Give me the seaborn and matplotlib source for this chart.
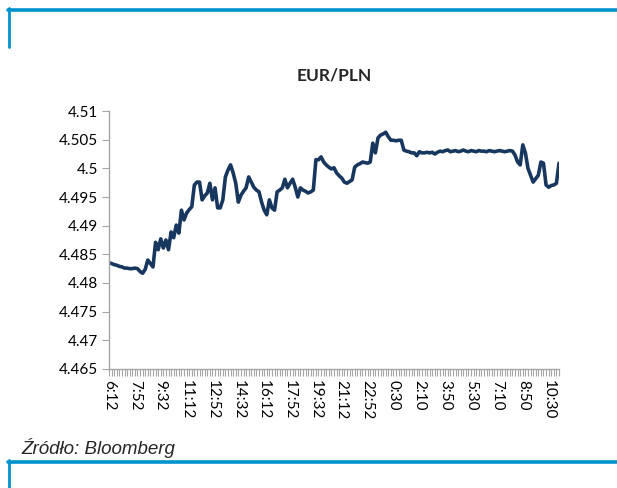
import numpy as np
import pandas as pd
import matplotlib
matplotlib.use("Agg")
import matplotlib.pyplot as plt
import seaborn as sns
from matplotlib.lines import Line2D

# EUR/PLN intraday quotes (one value per category on the x axis)
eurpln = [
    4.4835, 4.4834, 4.4832, 4.4831, 4.4829, 4.4828, 4.4826, 4.4826, 4.4825, 4.4825,
    4.4826, 4.4825, 4.4820, 4.4817, 4.4824, 4.4840, 4.4834, 4.4828, 4.4871, 4.4858,
    4.4877, 4.4861, 4.4875, 4.4858, 4.4889, 4.4879, 4.4901, 4.4887, 4.4927, 4.4910,
    4.4922, 4.4928, 4.4933, 4.4971, 4.4976, 4.4976, 4.4945, 4.4952, 4.4957, 4.4974,
    4.4945, 4.4966, 4.4931, 4.4931, 4.4945, 4.4985, 4.4997, 4.5006, 4.4992, 4.4974,
    4.4941, 4.4953, 4.4960, 4.4966, 4.4985, 4.4976, 4.4967, 4.4962, 4.4959, 4.4941,
    4.4927, 4.4919, 4.4945, 4.4931, 4.4927, 4.4959, 4.4962, 4.4966, 4.4981, 4.4966,
    4.4974, 4.4981, 4.4967, 4.4950, 4.4966, 4.4962, 4.4960, 4.4957, 4.4959, 4.4962,
    4.5015, 4.5015, 4.5020, 4.5011, 4.5006, 4.5002, 4.4999, 4.5001, 4.4992, 4.4987,
    4.4983, 4.4976, 4.4974, 4.4977, 4.4980, 4.5002, 4.5006, 4.5008, 4.5011, 4.5010,
    4.5009, 4.5011, 4.5044, 4.5027, 4.5053, 4.5058, 4.5060, 4.5063, 4.5055, 4.5049,
    4.5049, 4.5048, 4.5049, 4.5049, 4.5032, 4.5030, 4.5029, 4.5027, 4.5027, 4.5022,
    4.5029, 4.5027, 4.5027, 4.5028, 4.5027, 4.5028, 4.5025, 4.5028, 4.5030, 4.5029,
    4.5031, 4.5032, 4.5029, 4.5030, 4.5031, 4.5029, 4.5030, 4.5032, 4.5030, 4.5029,
    4.5031, 4.5030, 4.5029, 4.5031, 4.5030, 4.5030, 4.5029, 4.5031, 4.5030, 4.5029,
    4.5030, 4.5031, 4.5030, 4.5029, 4.5030, 4.5031, 4.5030, 4.5023, 4.5011, 4.5006,
    4.5041, 4.5027, 4.5000, 4.4988, 4.4976, 4.4982, 4.4988, 4.5011, 4.5009, 4.4971,
    4.4967, 4.4970, 4.4971, 4.4974, 4.5009,
]

x_tick_labels = ["6:12", "7:52", "9:32", "11:12", "12:52", "14:32", "16:12", "17:52",
                 "19:32", "21:12", "22:52", "0:30", "2:10", "3:50", "5:30", "7:10",
                 "8:50", "10:30"]
y_ticks = [4.465, 4.47, 4.475, 4.48, 4.485, 4.49, 4.495, 4.5, 4.505, 4.51]
y_tick_labels = ["4.465", "4.47", "4.475", "4.48", "4.485", "4.49", "4.495", "4.5",
                 "4.505", "4.51"]

df = pd.DataFrame({"idx": np.arange(len(eurpln)), "rate": eurpln})
n = len(df)

sns.set_style("white")
plt.rcParams['font.family'] = ['Lato', 'DejaVu Sans']

fig = plt.figure(figsize=(6.17, 4.88), dpi=100)
ax = fig.add_axes([0.1767, 0.2439, 0.7293, 0.5286])

sns.lineplot(data=df, x="idx", y="rate", ax=ax, color="#17375E", linewidth=2.6)

ax.set_xlim(0, n - 1)
ax.set_ylim(4.465, 4.51)
ax.set_yticks(y_ticks)
ax.set_yticklabels(y_tick_labels, fontsize=11)
ax.set_xticks(np.arange(0, n, 10))
ax.set_xticklabels(x_tick_labels, rotation=-90, fontsize=11, va="top", ha="center")
ax.set_xticks(np.arange(n), minor=True)
ax.tick_params(axis="both", which="both", direction="out", length=5,
               width=0.8, pad=3, bottom=True, left=True,
               color="#A6A6A6", labelcolor="black")
ax.tick_params(axis="y", which="minor", left=False)
ax.set_xlabel("")
ax.set_ylabel("")
for side in ["top", "right"]:
    ax.spines[side].set_visible(False)
for side in ["left", "bottom"]:
    ax.spines[side].set_color("#A6A6A6")
    ax.spines[side].set_linewidth(1.0)

fig.text(0.541, 0.846, "EUR/PLN", ha="center", va="center", fontsize=12.5,
         fontweight="bold")
fig.text(0.034, 0.082, "Źródło: Bloomberg", ha="left", va="center", fontsize=13.5,
         style="italic", family=["Liberation Sans", "DejaVu Sans"])

# blue frame lines
blue = "#0092CF"
fig.add_artist(Line2D([0.0125, 1.0], [0.9795, 0.9795], color=blue, linewidth=2.6,
                      transform=fig.transFigure))
fig.add_artist(Line2D([0.0138, 0.0138], [0.983, 0.903], color=blue, linewidth=2.0,
                      transform=fig.transFigure))
fig.add_artist(Line2D([0.0125, 1.0], [0.0543, 0.0543], color=blue, linewidth=2.6,
                      transform=fig.transFigure))
fig.add_artist(Line2D([0.0138, 0.0138], [0.057, 0.0], color=blue, linewidth=2.0,
                      transform=fig.transFigure))

fig.savefig("out.png", dpi=100)
